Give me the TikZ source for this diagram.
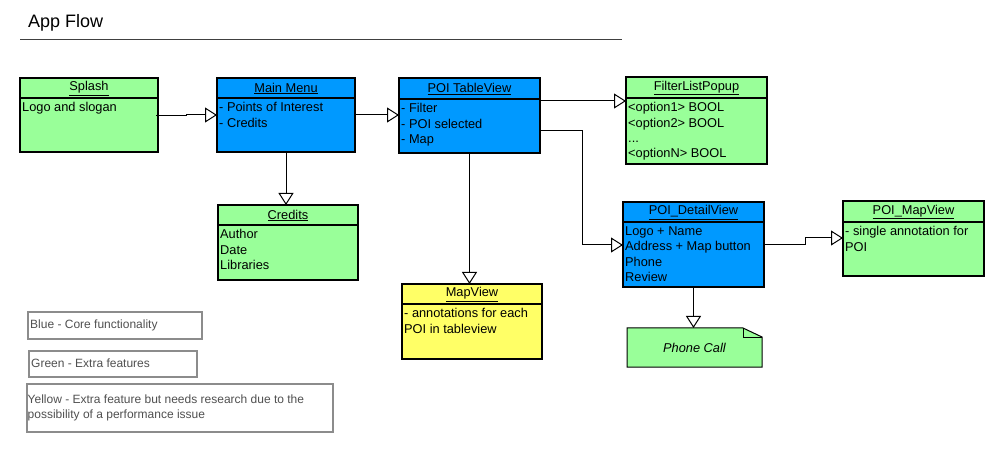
\documentclass[tikz,border=0pt]{standalone}
\usepackage{fontspec}
\setmainfont{Liberation Sans}
\usetikzlibrary{arrows.meta}
\definecolor{cgreen}{HTML}{99FF99}
\definecolor{cblue}{HTML}{0099FF}
\definecolor{cyellow}{HTML}{FFFF66}
\definecolor{legborder}{HTML}{8C8C8C}
\definecolor{legtext}{HTML}{505050}
\definecolor{rulegray}{HTML}{404040}
\tikzset{
  box/.style={draw=black, line width=2pt, rectangle, inner sep=0pt, outer sep=0pt},
  divider/.style={draw=black, line width=2pt},
  hdr/.style={font=\fontsize{12.8}{15.3}\selectfont, inner sep=0pt},
  body/.style={font=\fontsize{12.8}{15.3}\selectfont, inner sep=0pt, anchor=north west, align=left},
  conn/.style={draw=black, line width=1pt, -{Triangle[open, fill=white, length=12pt, width=15pt]}},
  legbox/.style={draw=legborder, line width=1.6pt, rectangle, inner sep=0pt, outer sep=0pt, anchor=north west},
  legtxt/.style={font=\fontsize{12}{15}\selectfont, text=legtext, inner sep=0pt, align=left},
}
% name, x1, y1, x2, y2, divider y, colour, title, body
\newcommand{\umlbox}[9]{%
  \node[box, fill=#7, anchor=north west, minimum width={(#4-#2)*1pt}, minimum height={(#5-#3)*1pt}] (#1) at (#2,#3) {};
  \draw[divider] (#2,#6) -- (#4,#6);
  \node[hdr] (#1-t) at ({(#2+#4)/2},{(#3+#6)/2+0.5}) {\underline{#8}};
  \node[body] (#1-b) at ({#2+2},{#6+4.5}) {#9};
}
\begin{document}
\begin{tikzpicture}[x=1pt,y=-1pt]
\useasboundingbox (0,0) rectangle (1004,454);
\fill[white] (0,0) rectangle (1004,454);

% title
\node[anchor=base west, inner sep=0pt, font=\fontsize{18}{20}\selectfont] (title) at (28,28) {App Flow};
\draw[rulegray, line width=1pt] (20,40) -- (622,40);

\umlbox{splash}{20}{78}{158}{152}{98}{cgreen}{Splash}{Logo and slogan}
\umlbox{mm}{217}{78}{355}{152}{98}{cblue}{Main Menu}{- Points of Interest\\- Credits}
\umlbox{tv}{399}{78}{540}{153}{99}{cblue}{POI TableView}{- Filter\\- POI selected\\- Map}
\umlbox{flp}{626}{77}{767}{164}{98}{cgreen}{FilterListPopup}{<option1> BOOL\\<option2> BOOL\\...\\<optionN> BOOL}
\umlbox{cr}{218}{205}{358}{280}{225}{cgreen}{Credits}{Author\\Date\\Libraries}
\umlbox{mv}{402}{284}{542}{359}{304}{cyellow}{MapView}{- annotations for each\\POI in tableview}
\umlbox{dv}{623}{202}{764}{287}{222}{cblue}{POI\_DetailView}{Logo + Name\\Address + Map button\\Phone\\Review}
\umlbox{pm}{843}{201}{984}{276}{222}{cgreen}{POI\_MapView}{- single annotation for\\POI}

% phone call note
\filldraw[fill=cgreen, draw=black, line width=1pt] (627,328) -- (743,328) -- (762,337) -- (762,367) -- (627,367) -- cycle;
\draw[black, line width=1pt] (743,328) -- (743,337) -- (762,337);
\node[inner sep=0pt, minimum width=135pt, minimum height=39pt, anchor=north west] (pc) at (627,328) {};
\node[font=\fontsize{12.8}{15}\selectfont\itshape, inner sep=0pt] (pc-t) at (694.5,347.5) {Phone Call};

% legend
\node[legbox, minimum width=174pt, minimum height=27pt] (l1) at (28,312) {};
\node[legtxt, anchor=west] (l1-t) at (30,325) {Blue - Core functionality};
\node[legbox, minimum width=168pt, minimum height=26pt] (l2) at (29,351) {};
\node[legtxt, anchor=west] (l2-t) at (31,363) {Green - Extra features};
\node[legbox, minimum width=306pt, minimum height=48pt] (l3) at (27,384) {};
\node[legtxt, anchor=north west] (l3-t) at (27.5,395) {Yellow - Extra feature but needs research due to the\\possibility of a performance issue};

% connectors
\draw[conn] ([xshift=-2pt,yshift=-1pt]splash.east) -- ++(30,0) |- (mm.west);
\draw[conn] (mm.east) -- (mm.east -| tv.west);
\draw[conn] ([yshift=-23pt]tv.north east) -- ([yshift=-24pt]flp.north west);
\draw[conn] ([yshift=-53pt]tv.north east) -- ++(42,0) |- ([yshift=-43pt]dv.north west);
\draw[conn] ([yshift=-43pt]dv.north east) -- ++(41,0) |- ([yshift=-37pt]pm.north west);
\draw[conn] (dv.south) -- (dv.south |- pc.north);
\draw[conn] (mm.south) -- (mm.south |- cr.north);
\draw[conn] (tv.south) -- (tv.south |- mv.north);
\end{tikzpicture}
\end{document}
